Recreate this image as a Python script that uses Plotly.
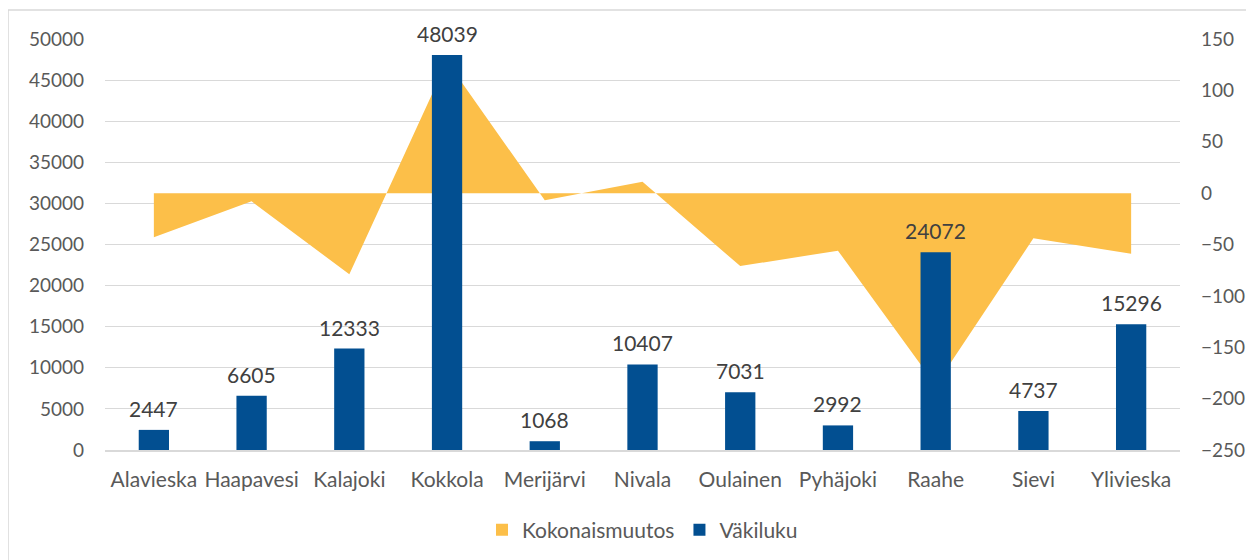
import plotly.graph_objects as go

kunnat = ["Alavieska", "Haapavesi", "Kalajoki", "Kokkola", "Merijärvi", "Nivala",
          "Oulainen", "Pyhäjoki", "Raahe", "Sievi", "Ylivieska"]
vakiluku = [2447, 6605, 12333, 48039, 1068, 10407, 7031, 2992, 24072, 4737, 15296]
kokonaismuutos = [-43, -8, -79, 128, -7, 11, -71, -56, -187, -44, -59]

left_ticks = list(range(0, 50001, 5000))
right_ticks = list(range(-250, 151, 50))

FONT = "Lato"
GOLD = "#FCBF49"
BLUE = "#024F91"
TXT = "#595959"

fig = go.Figure()
fig.add_trace(go.Scatter(
    x=kunnat, y=kokonaismuutos, name="Kokonaismuutos", yaxis="y",
    mode="none", fill="tozeroy", fillcolor=GOLD, line=dict(width=0), showlegend=False,
))
# legend swatch for the area series
fig.add_trace(go.Bar(
    x=[None], y=[None], name="Kokonaismuutos", yaxis="y",
    marker=dict(color=GOLD, line=dict(width=0)),
))
fig.add_trace(go.Bar(
    x=kunnat, y=vakiluku, name="Väkiluku", yaxis="y2",
    marker=dict(color=BLUE, line=dict(width=0)),
))

for k, v in zip(kunnat, vakiluku):
    fig.add_annotation(x=k, y=v, xref="x", yref="y2", text=str(v), showarrow=False,
                       yanchor="bottom", yshift=7,
                       font=dict(family=FONT, size=21, color="#404040"))

fig.add_shape(type="rect", xref="paper", yref="paper",
              x0=-0.0902, x1=1.0670, y0=-0.40, y1=1.0706,
              line=dict(color="#D9D9D9", width=1.5), fillcolor="rgba(0,0,0,0)", layer="below")

fig.update_layout(
    width=1246, height=552,
    margin=dict(l=97, r=74, t=31, b=110, autoexpand=False),
    paper_bgcolor="white", plot_bgcolor="white",
    font=dict(family=FONT, size=20, color=TXT),
    bargap=0.69,
    barmode="overlay",
    showlegend=True,
    legend=dict(orientation="h", x=0.5, xanchor="center", y=-0.195, yanchor="middle",
                font=dict(family=FONT, size=21, color=TXT), traceorder="normal",
                itemwidth=30),
    xaxis=dict(showgrid=False, showline=True, linecolor="#D9D9D9", linewidth=1.5,
               ticks="", ticklabelstandoff=10, tickfont=dict(size=21, color=TXT)),
    yaxis=dict(side="right", range=[-250, 150], tickvals=right_ticks, showgrid=False,
               zeroline=False, showline=False, ticklabelstandoff=20, automargin=False,
               tickfont=dict(size=19, color=TXT)),
    yaxis2=dict(side="left", overlaying="y", range=[0, 50000], tickvals=left_ticks,
                ticktext=[str(t) for t in left_ticks],
                showgrid=True, gridcolor="#D9D9D9", gridwidth=1.2, zeroline=False,
                showline=False, ticklabelstandoff=20, automargin=False,
                tickfont=dict(size=19, color=TXT)),
)

fig.write_html("out.html")
